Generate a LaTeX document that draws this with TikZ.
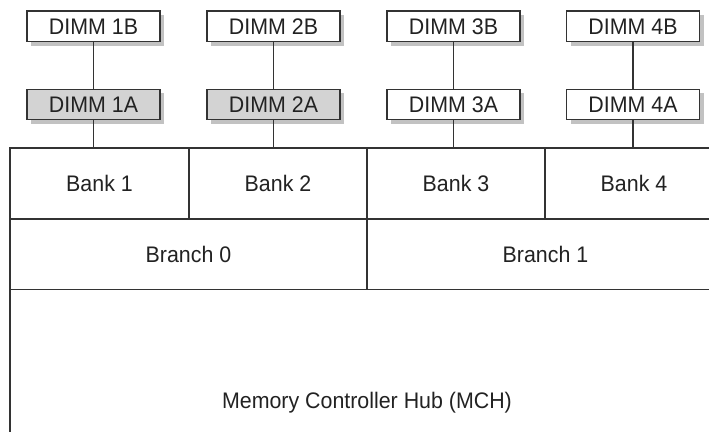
\documentclass[tikz,border=0pt]{standalone}
\usepackage{fontspec}
\setmainfont[FakeStretch=0.95]{Liberation Sans}
\usetikzlibrary{shadows}
\definecolor{linecol}{HTML}{333333}
\definecolor{txtcol}{HTML}{222222}
\definecolor{dimmfill}{HTML}{D3D3D3}
\definecolor{shadowcol}{HTML}{C2C2C2}
\begin{document}
\begin{tikzpicture}[x=1pt,y=-1pt,
  base/.style={draw=linecol, line width=1.4pt, text=txtcol, inner sep=0pt,
    font=\fontsize{22.5}{27}\selectfont, text height=16pt, text depth=0pt},
  dimm/.style={base, fill=white, minimum width=133pt, minimum height=30.5pt,
    drop shadow={shadow xshift=4pt, shadow yshift=-4pt, fill=shadowcol, opacity=1}},
  dimmA/.style={dimm, fill=dimmfill},
  cell/.style={base, fill=white},
  wire/.style={draw=linecol, line width=1.4pt}]
\useasboundingbox (0,0) rectangle (709,431);
\clip (0,0) rectangle (709,431);
\fill[white] (0,0) rectangle (709,431);
% controller hub and branches/banks
\node[cell, minimum width=714pt, minimum height=221pt] (mch) at (367,400) {Memory Controller Hub (MCH)};
\node[cell, minimum width=357pt, minimum height=70.5pt] (br0) at (188.5,254.25) {Branch 0};
\node[cell, minimum width=357pt, minimum height=70.5pt] (br1) at (545.5,254.25) {Branch 1};
\node[cell, minimum width=179pt, minimum height=71pt] (b1) at (99.5,183.5) {Bank 1};
\node[cell, minimum width=178pt, minimum height=71pt] (b2) at (278,183.5) {Bank 2};
\node[cell, minimum width=178pt, minimum height=71pt] (b3) at (456,183.5) {Bank 3};
\node[cell, minimum width=178pt, minimum height=71pt] (b4) at (634,183.5) {Bank 4};
% DIMMs
\node[dimm]  (d1b) at (93.5,26.25) {DIMM 1B};
\node[dimmA] (d1a) at (93.5,104.5) {DIMM 1A};
\node[dimm]  (d2b) at (273.5,26.25) {DIMM 2B};
\node[dimmA] (d2a) at (273.5,104.5) {DIMM 2A};
\node[dimm]  (d3b) at (453.5,26.25) {DIMM 3B};
\node[dimm]  (d3a) at (453.5,104.5) {DIMM 3A};
\node[dimm]  (d4b) at (633,26.25) {DIMM 4B};
\node[dimm]  (d4a) at (633,104.5) {DIMM 4A};
% connectors
\foreach \c/\b in {1/b1,2/b2,3/b3,4/b4}{
  \draw[wire] (d\c b.south) -- (d\c a.north);
  \draw[wire] (d\c a.south) -- (d\c a.south |- \b.north);
}
\end{tikzpicture}
\end{document}
